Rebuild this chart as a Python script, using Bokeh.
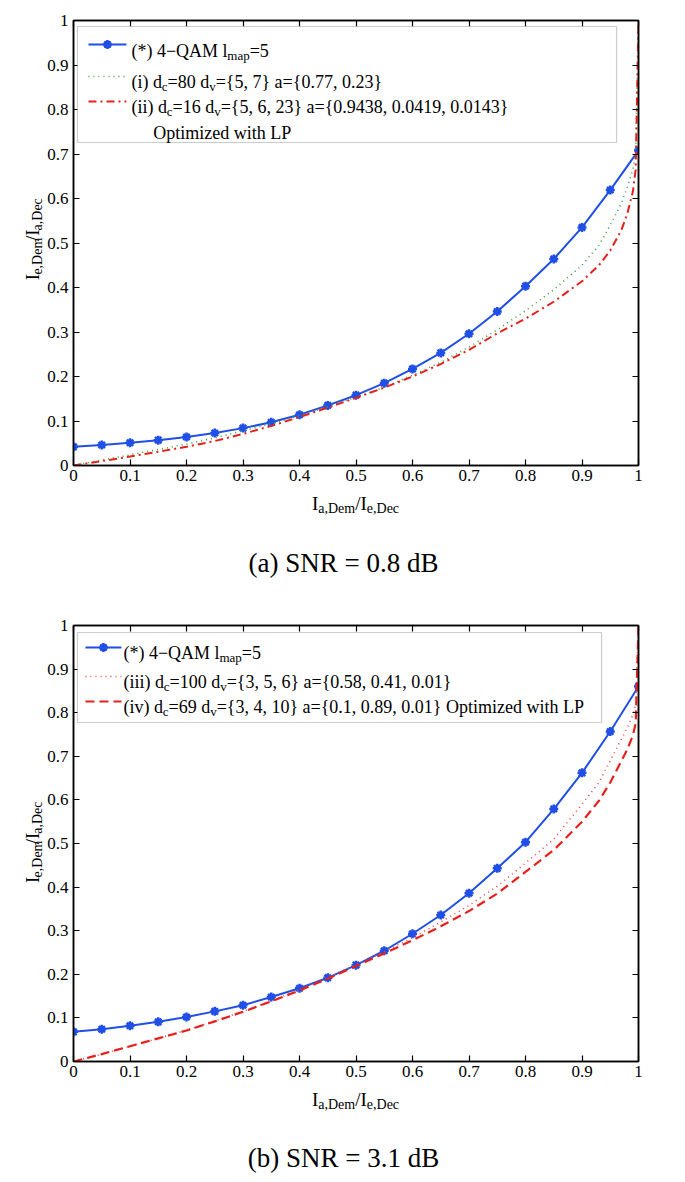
from bokeh.plotting import figure
from bokeh.layouts import column, row
from bokeh.models import (Label, LinearAxis, FixedTicker, CustomJSTickFormatter,
                          Range1d, BoxAnnotation)
from bokeh.embed import file_html
from bokeh.resources import INLINE

# ---------------- data ----------------
x_qam = [0.00, 0.05, 0.10, 0.15, 0.20, 0.25, 0.30, 0.35, 0.40, 0.45, 0.50,
         0.55, 0.60, 0.65, 0.70, 0.75, 0.80, 0.85, 0.90, 0.95, 1.00]
qam_a = [0.042, 0.046, 0.051, 0.057, 0.064, 0.073, 0.084, 0.097, 0.114, 0.135, 0.158,
         0.185, 0.217, 0.253, 0.296, 0.346, 0.403, 0.464, 0.535, 0.619, 0.708]
qam_b = [0.068, 0.074, 0.082, 0.091, 0.102, 0.115, 0.129, 0.148, 0.168, 0.192, 0.221,
         0.254, 0.293, 0.336, 0.386, 0.443, 0.503, 0.579, 0.662, 0.757, 0.860]

dec_x = [0.00, 0.05, 0.10, 0.15, 0.20, 0.25, 0.30, 0.35, 0.40, 0.45, 0.50, 0.55, 0.60,
         0.65, 0.70, 0.75, 0.80, 0.85, 0.90, 0.93, 0.95, 0.97, 0.98, 0.99, 0.995, 1.00]
curve_i = [0.000, 0.012, 0.024, 0.036, 0.048, 0.062, 0.078, 0.094, 0.112, 0.132, 0.153, 0.176, 0.203,
           0.232, 0.266, 0.305, 0.348, 0.395, 0.450, 0.495, 0.540, 0.590, 0.625, 0.665, 0.700, 1.000]
curve_ii = [0.000, 0.010, 0.020, 0.031, 0.042, 0.055, 0.071, 0.089, 0.109, 0.130, 0.152, 0.175, 0.200,
            0.228, 0.260, 0.297, 0.330, 0.368, 0.414, 0.450, 0.483, 0.530, 0.565, 0.615, 0.665, 1.000]
curve_iii = [0.000, 0.017, 0.035, 0.053, 0.072, 0.093, 0.115, 0.139, 0.165, 0.193, 0.222, 0.252, 0.284,
             0.320, 0.358, 0.402, 0.455, 0.510, 0.590, 0.640, 0.690, 0.740, 0.765, 0.795, 0.820, 1.000]
curve_iv = [0.000, 0.017, 0.035, 0.053, 0.071, 0.092, 0.114, 0.138, 0.163, 0.190, 0.219, 0.248, 0.278,
            0.310, 0.345, 0.385, 0.435, 0.485, 0.550, 0.598, 0.640, 0.690, 0.715, 0.748, 0.775, 1.000]

tick_vals = [0.0, 0.1, 0.2, 0.3, 0.4, 0.5, 0.6, 0.7, 0.8, 0.9, 1.0]

# ---------------- style ----------------
FONT = "Liberation Serif"
BLUE = "#1f4fe6"
RED = "#e8201c"
GREEN = "#3aa33a"
RED_DOT = "#f04848"

TIMES = {' ': 250, '(': 333, ')': 333, '*': 500, '\u2212': 564, '-': 333,
         'Q': 722, 'A': 722, 'M': 889, 'l': 278, 'm': 778, 'a': 444, 'p': 500, '=': 564,
         'd': 500, 'c': 444, 'v': 500, '{': 480, '}': 480, ',': 250, '.': 250, 'i': 278,
         'O': 722, 't': 278, 'z': 444, 'e': 444, 'w': 722, 'h': 500, 'L': 611, 'P': 556,
         'D': 722, 'I': 333, '/': 278, 'n': 500, 'r': 333, 'o': 500, 's': 389}


def tw(s, size):
    return sum(TIMES.get(ch, 500) for ch in s) * size / 1000.0


def make_geo(fx0, fx1, fy0, fy1):
    # page pixel -> data coords of a frame (0..1 both ways)
    def g(px, py):
        return (px - fx0) / (fx1 - fx0), (fy1 - py) / (fy1 - fy0)
    return g


def pix_geo(ox, oy):
    # page pixel -> coords of a text canvas whose y runs downward
    def g(px, py):
        return px - ox, py - oy
    return g


def rich(p, geo, x0, y0, segs, size=18, sub=13, angle=0.0, subdrop=5):
    pos = 0.0
    for text, is_sub in segs:
        fs = sub if is_sub else size
        off = subdrop if is_sub else 0
        if angle == 0:
            px, py = x0 + pos, y0 + off
        else:
            px, py = x0 + off, y0 - pos
        dx, dy = geo(px, py)
        p.add_layout(Label(x=dx, y=dy, text=text, text_font=FONT,
                           text_font_size=f"{fs}px", text_baseline="alphabetic",
                           text_align="left", angle=angle, text_color="black",
                           level="overlay"))
        pos += tw(text, fs)
    return pos


def seg_width(segs, size=18, sub=13):
    return sum(tw(t, sub if s else size) for t, s in segs)


fmt = CustomJSTickFormatter(code="""
if (Math.abs(tick) < 1e-9) return '0';
if (Math.abs(tick - 1) < 1e-9) return '1';
return tick.toFixed(1);
""")
blank = CustomJSTickFormatter(code="return '';")


def base_fig(w, h, left, right, top, bottom):
    p = figure(width=w, height=h, output_backend="svg", toolbar_location=None,
               x_range=Range1d(0, 1), y_range=Range1d(0, 1),
               min_border_left=left, min_border_right=right,
               min_border_top=top, min_border_bottom=bottom)
    p.grid.visible = False
    p.outline_line_color = "black"
    p.outline_line_width = 1.5
    p.background_fill_color = "white"
    p.border_fill_color = "white"
    for ax in (p.xaxis[0], p.yaxis[0]):
        ax.ticker = FixedTicker(ticks=tick_vals)
        ax.formatter = fmt
        ax.major_tick_in = 6
        ax.major_tick_out = 0
        ax.minor_tick_line_color = None
        ax.axis_line_color = "black"
        ax.axis_line_width = 1.5
        ax.major_tick_line_width = 1.2
        ax.major_label_text_font = FONT
        ax.major_label_text_font_size = "17px"
        ax.major_label_text_color = "black"
    p.xaxis[0].major_label_standoff = 4
    p.yaxis[0].major_label_standoff = 5
    for loc in ("above", "right"):
        ax = LinearAxis(ticker=FixedTicker(ticks=tick_vals), formatter=blank,
                        major_tick_in=6, major_tick_out=0,
                        minor_tick_line_color=None, axis_line_color="black",
                        axis_line_width=1.5, major_tick_line_width=1.2,
                        major_label_text_font_size="0px", major_label_standoff=0)
        p.add_layout(ax, loc)
    return p


def text_fig(w, h):
    f = figure(width=w, height=h, output_backend="svg", toolbar_location=None,
               x_range=Range1d(0, w), y_range=Range1d(h, 0),
               min_border=0, x_axis_type=None, y_axis_type=None)
    f.grid.visible = False
    f.outline_line_color = None
    f.background_fill_color = "white"
    f.border_fill_color = "white"
    return f


def legend(p, geo, box, rows, samples):
    bx0, bx1, by0, by1 = box
    l, t = geo(bx0, by0)
    r, b = geo(bx1, by1)
    p.add_layout(BoxAnnotation(left=l, right=r, top=t, bottom=b,
                               fill_color="white", fill_alpha=1.0,
                               line_color="#555555", line_width=1.2,
                               level="annotation"))
    for (sx0, sx1, sy, style) in samples:
        (a0, yy), (a1, _) = geo(sx0, sy), geo(sx1, sy)
        kw = dict(line_color=style["color"], line_width=style["width"], level="overlay")
        if style.get("dash"):
            kw["line_dash"] = style["dash"]
        p.line([a0, a1], [yy, yy], **kw)
        if style.get("marker"):
            p.scatter([(a0 + a1) / 2], [yy], marker="asterisk", size=9,
                      line_color=style["color"], line_width=2.5, level="overlay")
            p.scatter([(a0 + a1) / 2], [yy], marker="circle", size=5,
                      fill_color=style["color"], line_color=style["color"], level="overlay")
    for (x0, y0, segs) in rows:
        rich(p, geo, x0, y0, segs)


def qam(p, y):
    p.line(x_qam, y, line_color=BLUE, line_width=2)
    p.scatter(x_qam, y, marker="asterisk", size=9, line_color=BLUE, line_width=2.5)
    p.scatter(x_qam, y, marker="circle", size=5, fill_color=BLUE, line_color=BLUE)


XLAB = [("I", False), ("a,Dem", True), ("/I", False), ("e,Dec", True)]
YLAB = [("I", False), ("e,Dem", True), ("/I", False), ("a,Dec", True)]
LAB_MAIN, LAB_SUB = 19, 14


def ylabel_fig(h, oy, center_y):
    f = text_fig(44, h)
    g = pix_geo(0, oy)
    w = seg_width(YLAB, LAB_MAIN, LAB_SUB)
    rich(f, g, 32, center_y + w / 2, YLAB, size=LAB_MAIN, sub=LAB_SUB,
         angle=1.5707963267948966)
    return f


def caption_fig(h, oy, xlab_base, cap_base, text):
    f = text_fig(685, h)
    g = pix_geo(0, oy)
    w = seg_width(XLAB, LAB_MAIN, LAB_SUB)
    rich(f, g, 355 - w / 2, xlab_base, XLAB, size=LAB_MAIN, sub=LAB_SUB)
    dx, dy = g(343, cap_base)
    f.add_layout(Label(x=dx, y=dy, text=text, text_font=FONT, text_font_size="27px",
                       text_align="center", text_baseline="alphabetic",
                       text_color="black", level="overlay"))
    return f


S_QAM = {"color": BLUE, "width": 2, "marker": True}

# ---------------- top panel (frame: x 72..638, y 20..465) ----------------
geo_a = make_geo(72, 638, 20, 465)
pa = base_fig(641, 489, 28, 47, 20, 24)
qam(pa, qam_a)
pa.line(dec_x, curve_i, line_color=GREEN, line_width=1.6, line_dash="1 4")
pa.line(dec_x, curve_ii, line_color=RED, line_width=2, line_dash="8 4 2 4")
legend(pa, geo_a, (76, 616, 26, 142),
       [(130, 50, [("(*) 4\u2212QAM l", False), ("map", True), ("=5", False)]),
        (130, 81, [("(i) d", False), ("c", True), ("=80 d", False), ("v", True),
                   ("={5, 7} a={0.77, 0.23}", False)]),
        (130, 106, [("(ii) d", False), ("c", True), ("=16 d", False), ("v", True),
                    ("={5, 6, 23} a={0.9438, 0.0419, 0.0143}", False)]),
        (152, 132, [("Optimized with LP", False)])],
       [(87, 125, 44, S_QAM),
        (87, 125, 76, {"color": GREEN, "width": 1.6, "dash": "1 4"}),
        (87, 125, 101, {"color": RED, "width": 2, "dash": "8 4 2 4"})])
ya = ylabel_fig(489, 0, 242)
ca = caption_fig(111, 489, 503, 562, "(a) SNR = 0.8 dB")

# ---------------- bottom panel (frame: x 72..638, y 625..1061) ----------------
geo_b = make_geo(72, 638, 625, 1061)
pb = base_fig(641, 485, 28, 47, 25, 24)
qam(pb, qam_b)
pb.line(dec_x, curve_iii, line_color=RED_DOT, line_width=1.6, line_dash="1 4")
pb.line(dec_x, curve_iv, line_color=RED, line_width=2.2, line_dash="9 5")
legend(pb, geo_b, (76, 601, 632, 722),
       [(122, 652, [("(*) 4\u2212QAM l", False), ("map", True), ("=5", False)]),
        (122, 681, [("(iii) d", False), ("c", True), ("=100 d", False), ("v", True),
                    ("={3, 5, 6} a={0.58, 0.41, 0.01}", False)]),
        (122, 706, [("(iv) d", False), ("c", True), ("=69 d", False), ("v", True),
                    ("={3, 4, 10} a={0.1, 0.89, 0.01} Optimized with LP", False)])],
       [(84, 120, 647, S_QAM),
        (84, 120, 676, {"color": RED_DOT, "width": 1.6, "dash": "1 4"}),
        (84, 120, 701, {"color": RED, "width": 2.2, "dash": "9 5"})])
yb = ylabel_fig(485, 600, 843)
cb = caption_fig(93, 1085, 1099, 1157, "(b) SNR = 3.1 dB")

layout = column(row(ya, pa, spacing=0), ca, row(yb, pb, spacing=0), cb, spacing=0)
open("out.html", "w").write(file_html(layout, INLINE))
